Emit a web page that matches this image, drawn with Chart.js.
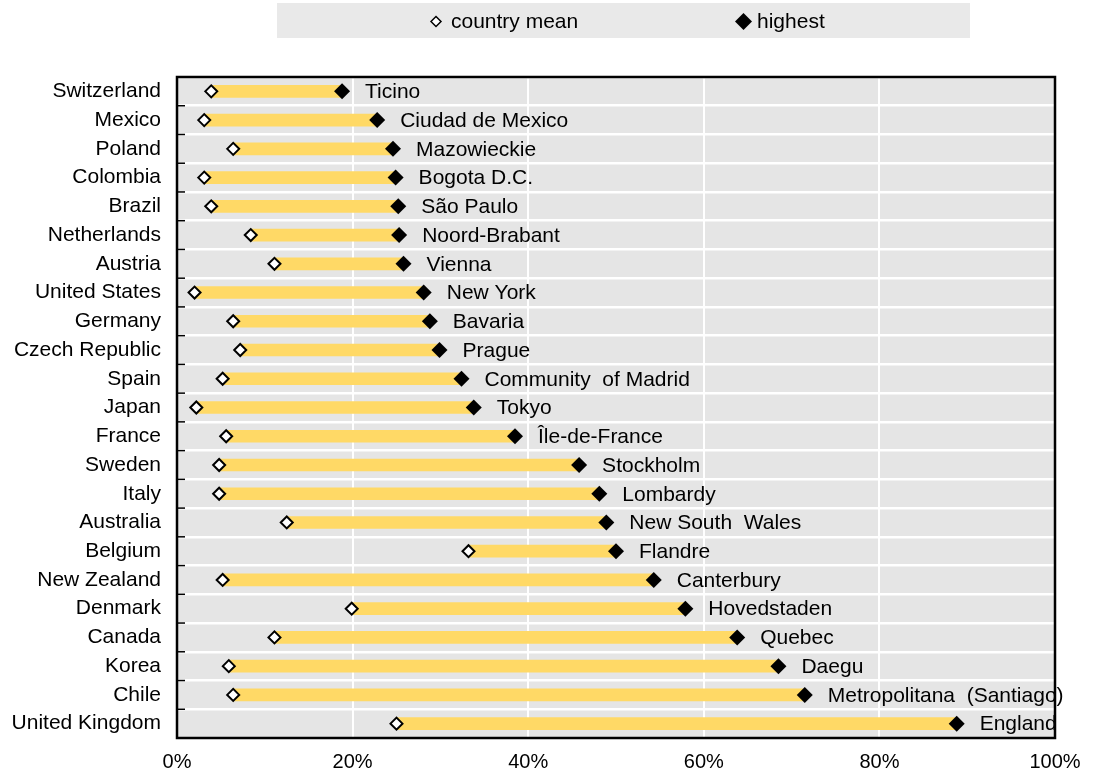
<!DOCTYPE html>
<html>
<head>
<meta charset="utf-8">
<script src="https://cdn.jsdelivr.net/npm/chart.js@4.4.0/dist/chart.umd.min.js"></script>
<style>
  body { margin: 0; background: #fff; }
  #wrap { width: 1096px; height: 784px; }
</style>
</head>
<body>
<div id="wrap"><canvas id="chart"></canvas></div>
<script>
// Countries (y categories), top to bottom
const countries = ['Switzerland', 'Mexico', 'Poland', 'Colombia', 'Brazil', 'Netherlands', 'Austria',
    'United States', 'Germany', 'Czech Republic', 'Spain', 'Japan', 'France', 'Sweden', 'Italy',
    'Australia', 'Belgium', 'New Zealand', 'Denmark', 'Canada', 'Korea', 'Chile', 'United Kingdom'];

// Region with the highest value in each country
const regions = ['Ticino', 'Ciudad de Mexico', 'Mazowieckie', 'Bogota D.C.', 'São Paulo', 'Noord-Brabant',
    'Vienna', 'New York', 'Bavaria', 'Prague', 'Community  of Madrid', 'Tokyo', 'Île-de-France', 'Stockholm',
    'Lombardy', 'New South  Wales', 'Flandre', 'Canterbury', 'Hovedstaden', 'Quebec', 'Daegu',
    'Metropolitana  (Santiago)', 'England'];

// Values in %
const meanVals = [3.9, 3.1, 6.4, 3.1, 3.9, 8.4, 11.1, 2.0, 6.4, 7.2, 5.2, 2.2, 5.6, 4.8, 4.8,
    12.5, 33.2, 5.2, 19.9, 11.1, 5.9, 6.4, 25.0];
const highVals = [18.8, 22.8, 24.6, 24.9, 25.2, 25.3, 25.8, 28.1, 28.8, 29.9, 32.4, 33.8, 38.5,
    45.8, 48.1, 48.9, 50.0, 54.3, 57.9, 63.8, 68.5, 71.5, 88.8];

// x axis ticks
const xTicks = [0, 20, 40, 60, 80, 100];

const FONT = "'Liberation Sans', Arial, sans-serif";

// grey plot background
const plotBackground = {
    id: 'plotBackground',
    beforeDraw(chart) {
        const { ctx, chartArea: a } = chart;
        ctx.save();
        ctx.fillStyle = '#e5e5e5';
        ctx.fillRect(a.left, a.top, a.right - a.left, a.bottom - a.top);
        ctx.restore();
    }
};

// frame, inner ticks and region labels
const frameAndLabels = {
    id: 'frameAndLabels',
    afterDatasetsDraw(chart) {
        const { ctx, chartArea: a } = chart;
        const yScale = chart.scales.y;
        ctx.save();

        // inner tick marks on category boundaries
        ctx.strokeStyle = '#000';
        ctx.lineWidth = 1.5;
        for (let i = 1; i < countries.length; i++) {
            const y = (yScale.getPixelForTick(i - 1) + yScale.getPixelForTick(i)) / 2;
            ctx.beginPath();
            ctx.moveTo(a.left, y);
            ctx.lineTo(a.left + 8, y);
            ctx.stroke();
        }

        // frame
        ctx.lineWidth = 2.5;
        ctx.strokeRect(a.left, a.top, a.right - a.left, a.bottom - a.top);

        // region labels next to the highest marker
        const meta = chart.getDatasetMeta(2);
        ctx.fillStyle = '#000';
        ctx.font = '21px ' + FONT;
        ctx.textBaseline = 'middle';
        ctx.textAlign = 'left';
        meta.data.forEach((pt, i) => {
            ctx.fillText(regions[i], pt.x + 23, pt.y + 1);
        });
        ctx.restore();
    }
};

// legend in a grey box
const greyLegend = {
    id: 'greyLegend',
    afterDraw(chart) {
        const { ctx } = chart;
        ctx.save();
        ctx.fillStyle = '#e9e9e9';
        ctx.fillRect(277, 3, 693, 35);

        const y = 21.5;
        // country mean
        ctx.beginPath();
        ctx.moveTo(436, y - 5); ctx.lineTo(441, y); ctx.lineTo(436, y + 5); ctx.lineTo(431, y);
        ctx.closePath();
        ctx.fillStyle = '#fff';
        ctx.fill();
        ctx.strokeStyle = '#000';
        ctx.lineWidth = 1.5;
        ctx.stroke();
        // highest
        ctx.beginPath();
        ctx.moveTo(743.5, y - 8.5); ctx.lineTo(752, y); ctx.lineTo(743.5, y + 8.5); ctx.lineTo(735, y);
        ctx.closePath();
        ctx.fillStyle = '#000';
        ctx.fill();

        ctx.font = '21px ' + FONT;
        ctx.textBaseline = 'middle';
        ctx.fillText(chart.data.datasets[1].label, 451, y + 1);
        ctx.fillText(chart.data.datasets[2].label, 757, y + 1);
        ctx.restore();
    }
};

const ctx = document.getElementById('chart');
new Chart(ctx, {
    type: 'bar',
    data: {
        labels: countries,
        datasets: [
            {
                type: 'bar',
                label: 'range',
                data: meanVals.map((m, i) => [m, highVals[i]]),
                backgroundColor: '#ffd966',
                borderWidth: 0,
                barThickness: 12,
                order: 3
            },
            {
                type: 'line',
                label: 'country mean',
                data: meanVals,
                showLine: false,
                pointStyle: 'rectRot',
                pointRadius: 6,
                pointBackgroundColor: '#fff',
                pointBorderColor: '#000',
                pointBorderWidth: 2,
                order: 2
            },
            {
                type: 'line',
                label: 'highest',
                data: highVals,
                showLine: false,
                pointStyle: 'rectRot',
                pointRadius: 8,
                pointBackgroundColor: '#000',
                pointBorderColor: '#000',
                pointBorderWidth: 0,
                order: 1
            }
        ]
    },
    options: {
        indexAxis: 'y',
        responsive: true,
        maintainAspectRatio: false,
        animation: false,
        layout: {
            padding: { top: 77, right: 41, left: 0, bottom: 0 }
        },
        plugins: {
            legend: { display: false },
            tooltip: { enabled: false }
        },
        scales: {
            x: {
                type: 'linear',
                min: 0,
                max: 100,
                afterBuildTicks: function(scale) {
                    scale.ticks = xTicks.map(v => ({ value: v }));
                },
                afterFit: function(scale) {
                    scale.height = 46;
                },
                ticks: {
                    callback: v => v + '%',
                    color: '#000',
                    padding: 12,
                    font: { family: FONT, size: 20 }
                },
                grid: {
                    color: '#fff',
                    lineWidth: 2,
                    drawTicks: false
                },
                border: { display: false }
            },
            y: {
                type: 'category',
                offset: true,
                afterFit: function(scale) {
                    scale.width = 177;
                },
                ticks: {
                    color: '#000',
                    padding: 16,
                    autoSkip: false,
                    font: { family: FONT, size: 21 }
                },
                grid: {
                    color: '#fff',
                    lineWidth: 2.5,
                    drawTicks: false,
                    offset: true
                },
                border: { display: false }
            }
        }
    },
    plugins: [plotBackground, frameAndLabels, greyLegend]
});
</script>
</body>
</html>
